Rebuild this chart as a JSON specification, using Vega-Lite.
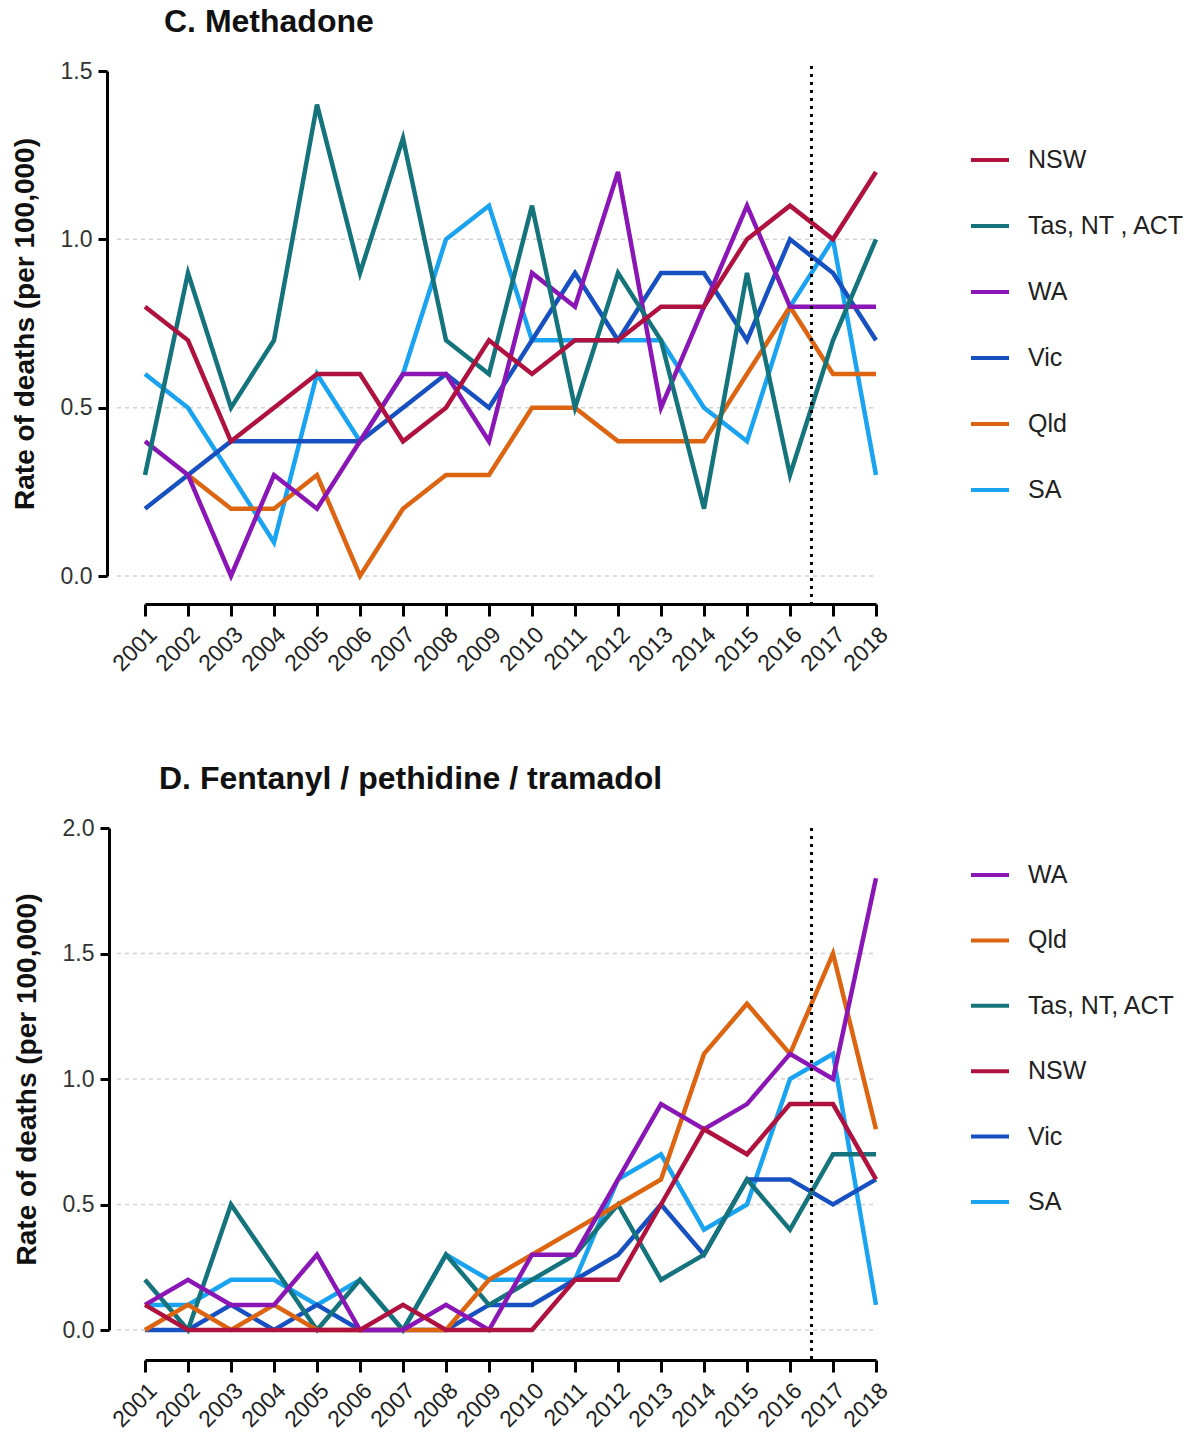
{
  "$schema": "https://vega.github.io/schema/vega-lite/v6.json",
  "background": "white",
  "padding": {"left": 11, "top": 6, "right": 5, "bottom": 5},
  "config": {
    "view": {"stroke": null},
    "font": "Liberation Sans",
    "axis": {"labelFont": "Liberation Sans", "titleFont": "Liberation Sans"},
    "legend": {"labelFont": "Liberation Sans"}
  },
  "datasets": {
    "methadone": [
      {"state": "SA", "year": 2001, "rate": 0.6}, {"state": "SA", "year": 2002, "rate": 0.5}, {"state": "SA", "year": 2003, "rate": 0.3}, {"state": "SA", "year": 2004, "rate": 0.1}, {"state": "SA", "year": 2005, "rate": 0.6}, {"state": "SA", "year": 2006, "rate": 0.4}, {"state": "SA", "year": 2007, "rate": 0.6}, {"state": "SA", "year": 2008, "rate": 1.0}, {"state": "SA", "year": 2009, "rate": 1.1}, {"state": "SA", "year": 2010, "rate": 0.7}, {"state": "SA", "year": 2011, "rate": 0.7}, {"state": "SA", "year": 2012, "rate": 0.7}, {"state": "SA", "year": 2013, "rate": 0.7}, {"state": "SA", "year": 2014, "rate": 0.5}, {"state": "SA", "year": 2015, "rate": 0.4}, {"state": "SA", "year": 2016, "rate": 0.8}, {"state": "SA", "year": 2017, "rate": 1.0}, {"state": "SA", "year": 2018, "rate": 0.3},
      {"state": "Qld", "year": 2002, "rate": 0.3}, {"state": "Qld", "year": 2003, "rate": 0.2}, {"state": "Qld", "year": 2004, "rate": 0.2}, {"state": "Qld", "year": 2005, "rate": 0.3}, {"state": "Qld", "year": 2006, "rate": 0.0}, {"state": "Qld", "year": 2007, "rate": 0.2}, {"state": "Qld", "year": 2008, "rate": 0.3}, {"state": "Qld", "year": 2009, "rate": 0.3}, {"state": "Qld", "year": 2010, "rate": 0.5}, {"state": "Qld", "year": 2011, "rate": 0.5}, {"state": "Qld", "year": 2012, "rate": 0.4}, {"state": "Qld", "year": 2013, "rate": 0.4}, {"state": "Qld", "year": 2014, "rate": 0.4}, {"state": "Qld", "year": 2015, "rate": 0.6}, {"state": "Qld", "year": 2016, "rate": 0.8}, {"state": "Qld", "year": 2017, "rate": 0.6}, {"state": "Qld", "year": 2018, "rate": 0.6},
      {"state": "Vic", "year": 2001, "rate": 0.2}, {"state": "Vic", "year": 2002, "rate": 0.3}, {"state": "Vic", "year": 2003, "rate": 0.4}, {"state": "Vic", "year": 2004, "rate": 0.4}, {"state": "Vic", "year": 2005, "rate": 0.4}, {"state": "Vic", "year": 2006, "rate": 0.4}, {"state": "Vic", "year": 2007, "rate": 0.5}, {"state": "Vic", "year": 2008, "rate": 0.6}, {"state": "Vic", "year": 2009, "rate": 0.5}, {"state": "Vic", "year": 2010, "rate": 0.7}, {"state": "Vic", "year": 2011, "rate": 0.9}, {"state": "Vic", "year": 2012, "rate": 0.7}, {"state": "Vic", "year": 2013, "rate": 0.9}, {"state": "Vic", "year": 2014, "rate": 0.9}, {"state": "Vic", "year": 2015, "rate": 0.7}, {"state": "Vic", "year": 2016, "rate": 1.0}, {"state": "Vic", "year": 2017, "rate": 0.9}, {"state": "Vic", "year": 2018, "rate": 0.7},
      {"state": "WA", "year": 2001, "rate": 0.4}, {"state": "WA", "year": 2002, "rate": 0.3}, {"state": "WA", "year": 2003, "rate": 0.0}, {"state": "WA", "year": 2004, "rate": 0.3}, {"state": "WA", "year": 2005, "rate": 0.2}, {"state": "WA", "year": 2006, "rate": 0.4}, {"state": "WA", "year": 2007, "rate": 0.6}, {"state": "WA", "year": 2008, "rate": 0.6}, {"state": "WA", "year": 2009, "rate": 0.4}, {"state": "WA", "year": 2010, "rate": 0.9}, {"state": "WA", "year": 2011, "rate": 0.8}, {"state": "WA", "year": 2012, "rate": 1.2}, {"state": "WA", "year": 2013, "rate": 0.5}, {"state": "WA", "year": 2014, "rate": 0.8}, {"state": "WA", "year": 2015, "rate": 1.1}, {"state": "WA", "year": 2016, "rate": 0.8}, {"state": "WA", "year": 2017, "rate": 0.8}, {"state": "WA", "year": 2018, "rate": 0.8},
      {"state": "Tas, NT , ACT", "year": 2001, "rate": 0.3}, {"state": "Tas, NT , ACT", "year": 2002, "rate": 0.9}, {"state": "Tas, NT , ACT", "year": 2003, "rate": 0.5}, {"state": "Tas, NT , ACT", "year": 2004, "rate": 0.7}, {"state": "Tas, NT , ACT", "year": 2005, "rate": 1.4}, {"state": "Tas, NT , ACT", "year": 2006, "rate": 0.9}, {"state": "Tas, NT , ACT", "year": 2007, "rate": 1.3}, {"state": "Tas, NT , ACT", "year": 2008, "rate": 0.7}, {"state": "Tas, NT , ACT", "year": 2009, "rate": 0.6}, {"state": "Tas, NT , ACT", "year": 2010, "rate": 1.1}, {"state": "Tas, NT , ACT", "year": 2011, "rate": 0.5}, {"state": "Tas, NT , ACT", "year": 2012, "rate": 0.9}, {"state": "Tas, NT , ACT", "year": 2013, "rate": 0.7}, {"state": "Tas, NT , ACT", "year": 2014, "rate": 0.2}, {"state": "Tas, NT , ACT", "year": 2015, "rate": 0.9}, {"state": "Tas, NT , ACT", "year": 2016, "rate": 0.3}, {"state": "Tas, NT , ACT", "year": 2017, "rate": 0.7}, {"state": "Tas, NT , ACT", "year": 2018, "rate": 1.0},
      {"state": "NSW", "year": 2001, "rate": 0.8}, {"state": "NSW", "year": 2002, "rate": 0.7}, {"state": "NSW", "year": 2003, "rate": 0.4}, {"state": "NSW", "year": 2004, "rate": 0.5}, {"state": "NSW", "year": 2005, "rate": 0.6}, {"state": "NSW", "year": 2006, "rate": 0.6}, {"state": "NSW", "year": 2007, "rate": 0.4}, {"state": "NSW", "year": 2008, "rate": 0.5}, {"state": "NSW", "year": 2009, "rate": 0.7}, {"state": "NSW", "year": 2010, "rate": 0.6}, {"state": "NSW", "year": 2011, "rate": 0.7}, {"state": "NSW", "year": 2012, "rate": 0.7}, {"state": "NSW", "year": 2013, "rate": 0.8}, {"state": "NSW", "year": 2014, "rate": 0.8}, {"state": "NSW", "year": 2015, "rate": 1.0}, {"state": "NSW", "year": 2016, "rate": 1.1}, {"state": "NSW", "year": 2017, "rate": 1.0}, {"state": "NSW", "year": 2018, "rate": 1.2}
    ],
    "fentanyl": [
      {"state": "SA", "year": 2001, "rate": 0.1}, {"state": "SA", "year": 2002, "rate": 0.1}, {"state": "SA", "year": 2003, "rate": 0.2}, {"state": "SA", "year": 2004, "rate": 0.2}, {"state": "SA", "year": 2005, "rate": 0.1}, {"state": "SA", "year": 2006, "rate": 0.2}, {"state": "SA", "year": 2007, "rate": 0.0}, {"state": "SA", "year": 2008, "rate": 0.3}, {"state": "SA", "year": 2009, "rate": 0.2}, {"state": "SA", "year": 2010, "rate": 0.2}, {"state": "SA", "year": 2011, "rate": 0.2}, {"state": "SA", "year": 2012, "rate": 0.6}, {"state": "SA", "year": 2013, "rate": 0.7}, {"state": "SA", "year": 2014, "rate": 0.4}, {"state": "SA", "year": 2015, "rate": 0.5}, {"state": "SA", "year": 2016, "rate": 1.0}, {"state": "SA", "year": 2017, "rate": 1.1}, {"state": "SA", "year": 2018, "rate": 0.1},
      {"state": "Vic", "year": 2001, "rate": 0.0}, {"state": "Vic", "year": 2002, "rate": 0.0}, {"state": "Vic", "year": 2003, "rate": 0.1}, {"state": "Vic", "year": 2004, "rate": 0.0}, {"state": "Vic", "year": 2005, "rate": 0.1}, {"state": "Vic", "year": 2006, "rate": 0.0}, {"state": "Vic", "year": 2007, "rate": 0.0}, {"state": "Vic", "year": 2008, "rate": 0.0}, {"state": "Vic", "year": 2009, "rate": 0.1}, {"state": "Vic", "year": 2010, "rate": 0.1}, {"state": "Vic", "year": 2011, "rate": 0.2}, {"state": "Vic", "year": 2012, "rate": 0.3}, {"state": "Vic", "year": 2013, "rate": 0.5}, {"state": "Vic", "year": 2014, "rate": 0.3}, {"state": "Vic", "year": 2015, "rate": 0.6}, {"state": "Vic", "year": 2016, "rate": 0.6}, {"state": "Vic", "year": 2017, "rate": 0.5}, {"state": "Vic", "year": 2018, "rate": 0.6},
      {"state": "Tas, NT, ACT", "year": 2001, "rate": 0.2}, {"state": "Tas, NT, ACT", "year": 2002, "rate": 0.0}, {"state": "Tas, NT, ACT", "year": 2003, "rate": 0.5}, {"state": "Tas, NT, ACT", "year": 2004, "rate": 0.25}, {"state": "Tas, NT, ACT", "year": 2005, "rate": 0.0}, {"state": "Tas, NT, ACT", "year": 2006, "rate": 0.2}, {"state": "Tas, NT, ACT", "year": 2007, "rate": 0.0}, {"state": "Tas, NT, ACT", "year": 2008, "rate": 0.3}, {"state": "Tas, NT, ACT", "year": 2009, "rate": 0.1}, {"state": "Tas, NT, ACT", "year": 2010, "rate": 0.2}, {"state": "Tas, NT, ACT", "year": 2011, "rate": 0.3}, {"state": "Tas, NT, ACT", "year": 2012, "rate": 0.5}, {"state": "Tas, NT, ACT", "year": 2013, "rate": 0.2}, {"state": "Tas, NT, ACT", "year": 2014, "rate": 0.3}, {"state": "Tas, NT, ACT", "year": 2015, "rate": 0.6}, {"state": "Tas, NT, ACT", "year": 2016, "rate": 0.4}, {"state": "Tas, NT, ACT", "year": 2017, "rate": 0.7}, {"state": "Tas, NT, ACT", "year": 2018, "rate": 0.7},
      {"state": "Qld", "year": 2001, "rate": 0.0}, {"state": "Qld", "year": 2002, "rate": 0.1}, {"state": "Qld", "year": 2003, "rate": 0.0}, {"state": "Qld", "year": 2004, "rate": 0.1}, {"state": "Qld", "year": 2005, "rate": 0.0}, {"state": "Qld", "year": 2006, "rate": 0.0}, {"state": "Qld", "year": 2007, "rate": 0.0}, {"state": "Qld", "year": 2008, "rate": 0.0}, {"state": "Qld", "year": 2009, "rate": 0.2}, {"state": "Qld", "year": 2010, "rate": 0.3}, {"state": "Qld", "year": 2011, "rate": 0.4}, {"state": "Qld", "year": 2012, "rate": 0.5}, {"state": "Qld", "year": 2013, "rate": 0.6}, {"state": "Qld", "year": 2014, "rate": 1.1}, {"state": "Qld", "year": 2015, "rate": 1.3}, {"state": "Qld", "year": 2016, "rate": 1.1}, {"state": "Qld", "year": 2017, "rate": 1.5}, {"state": "Qld", "year": 2018, "rate": 0.8},
      {"state": "WA", "year": 2001, "rate": 0.1}, {"state": "WA", "year": 2002, "rate": 0.2}, {"state": "WA", "year": 2003, "rate": 0.1}, {"state": "WA", "year": 2004, "rate": 0.1}, {"state": "WA", "year": 2005, "rate": 0.3}, {"state": "WA", "year": 2006, "rate": 0.0}, {"state": "WA", "year": 2007, "rate": 0.0}, {"state": "WA", "year": 2008, "rate": 0.1}, {"state": "WA", "year": 2009, "rate": 0.0}, {"state": "WA", "year": 2010, "rate": 0.3}, {"state": "WA", "year": 2011, "rate": 0.3}, {"state": "WA", "year": 2012, "rate": 0.6}, {"state": "WA", "year": 2013, "rate": 0.9}, {"state": "WA", "year": 2014, "rate": 0.8}, {"state": "WA", "year": 2015, "rate": 0.9}, {"state": "WA", "year": 2016, "rate": 1.1}, {"state": "WA", "year": 2017, "rate": 1.0}, {"state": "WA", "year": 2018, "rate": 1.8},
      {"state": "NSW", "year": 2001, "rate": 0.1}, {"state": "NSW", "year": 2002, "rate": 0.0}, {"state": "NSW", "year": 2003, "rate": 0.0}, {"state": "NSW", "year": 2004, "rate": 0.0}, {"state": "NSW", "year": 2005, "rate": 0.0}, {"state": "NSW", "year": 2006, "rate": 0.0}, {"state": "NSW", "year": 2007, "rate": 0.1}, {"state": "NSW", "year": 2008, "rate": 0.0}, {"state": "NSW", "year": 2009, "rate": 0.0}, {"state": "NSW", "year": 2010, "rate": 0.0}, {"state": "NSW", "year": 2011, "rate": 0.2}, {"state": "NSW", "year": 2012, "rate": 0.2}, {"state": "NSW", "year": 2013, "rate": 0.5}, {"state": "NSW", "year": 2014, "rate": 0.8}, {"state": "NSW", "year": 2015, "rate": 0.7}, {"state": "NSW", "year": 2016, "rate": 0.9}, {"state": "NSW", "year": 2017, "rate": 0.9}, {"state": "NSW", "year": 2018, "rate": 0.6}
    ]
  },
  "spacing": 87,
  "resolve": {"scale": {"color": "independent", "x": "independent", "y": "independent"}, "legend": {"color": "independent"}},
  "vconcat": [
    {
      "title": {"text": "C. Methadone", "anchor": "start", "frame": "group", "fontSize": 32, "fontWeight": "bold", "color": "#111111", "dx": 19, "offset": 21},
      "width": 731,
      "height": 505,
      "layer": [
        {"data": {"values": [{}]}, "mark": {"type": "rule", "color": "#d2d2d2", "strokeDash": [4, 4], "strokeWidth": 1.5}, "encoding": {"x": {"datum": 2000.35}, "x2": {"datum": 2018}, "y": {"datum": 0}}},
        {"data": {"values": [{}]}, "mark": {"type": "rule", "color": "#d2d2d2", "strokeDash": [4, 4], "strokeWidth": 1.5}, "encoding": {"x": {"datum": 2000.35}, "x2": {"datum": 2018}, "y": {"datum": 0.5}}},
        {"data": {"values": [{}]}, "mark": {"type": "rule", "color": "#d2d2d2", "strokeDash": [4, 4], "strokeWidth": 1.5}, "encoding": {"x": {"datum": 2000.35}, "x2": {"datum": 2018}, "y": {"datum": 1.0}}},
        {
          "data": {"name": "methadone"},
          "mark": {"type": "line", "strokeWidth": 4.5, "strokeJoin": "miter"},
          "encoding": {
            "x": {"field": "year", "type": "quantitative", "scale": {"domain": [2001, 2018], "nice": false, "zero": false},
              "axis": {"title": null, "grid": false, "offset": 28, "values": [2001, 2002, 2003, 2004, 2005, 2006, 2007, 2008, 2009, 2010, 2011, 2012, 2013, 2014, 2015, 2016, 2017, 2018], "format": "d", "labelAngle": -45, "labelFontSize": 23, "labelColor": "#222222", "labelPadding": 7, "domainColor": "#000000", "domainWidth": 3, "tickColor": "#000000", "tickWidth": 3, "tickSize": 12, "labelFlush": false, "labelOverlap": false}},
            "y": {"field": "rate", "type": "quantitative", "scale": {"domain": [0, 1.5], "nice": false},
              "axis": {"title": "Rate of deaths (per 100,000)", "titleFontSize": 28, "titleFontWeight": "bold", "titleColor": "#111111", "titlePadding": 21, "grid": false, "offset": 38, "values": [0, 0.5, 1, 1.5], "format": ".1f", "labelFontSize": 23, "labelColor": "#333333", "labelPadding": 6, "domainColor": "#000000", "domainWidth": 3, "tickColor": "#000000", "tickWidth": 3, "tickSize": 9}},
            "color": {"field": "state", "type": "nominal",
              "scale": {"domain": ["NSW", "Tas, NT , ACT", "WA", "Vic", "Qld", "SA"], "range": ["#B0123F", "#14737B", "#8A17B5", "#1750C0", "#DD6410", "#1AA3F0"]},
              "legend": {"title": null, "orient": "none", "legendX": 824, "legendY": 68, "symbolType": "stroke", "symbolSize": 1444, "symbolStrokeWidth": 4, "labelFontSize": 25, "labelColor": "#222222", "labelOffset": 17, "rowPadding": 32}}
          }
        },
        {"data": {"values": [{}]}, "mark": {"type": "rule", "color": "#000000", "strokeDash": [3, 5], "strokeWidth": 3}, "encoding": {"x": {"datum": 2016.5}, "y": {"datum": 1.515}, "y2": {"datum": -0.083}}}
      ]
    },
    {
      "title": {"text": "D. Fentanyl / pethidine / tramadol", "anchor": "start", "frame": "group", "fontSize": 32, "fontWeight": "bold", "color": "#111111", "dx": 14, "offset": 21},
      "width": 731,
      "height": 502,
      "layer": [
        {"data": {"values": [{}]}, "mark": {"type": "rule", "color": "#d2d2d2", "strokeDash": [4, 4], "strokeWidth": 1.5}, "encoding": {"x": {"datum": 2000.35}, "x2": {"datum": 2018}, "y": {"datum": 0}}},
        {"data": {"values": [{}]}, "mark": {"type": "rule", "color": "#d2d2d2", "strokeDash": [4, 4], "strokeWidth": 1.5}, "encoding": {"x": {"datum": 2000.35}, "x2": {"datum": 2018}, "y": {"datum": 0.5}}},
        {"data": {"values": [{}]}, "mark": {"type": "rule", "color": "#d2d2d2", "strokeDash": [4, 4], "strokeWidth": 1.5}, "encoding": {"x": {"datum": 2000.35}, "x2": {"datum": 2018}, "y": {"datum": 1.0}}},
        {"data": {"values": [{}]}, "mark": {"type": "rule", "color": "#d2d2d2", "strokeDash": [4, 4], "strokeWidth": 1.5}, "encoding": {"x": {"datum": 2000.35}, "x2": {"datum": 2018}, "y": {"datum": 1.5}}},
        {
          "data": {"name": "fentanyl"},
          "mark": {"type": "line", "strokeWidth": 4.5, "strokeJoin": "miter"},
          "encoding": {
            "x": {"field": "year", "type": "quantitative", "scale": {"domain": [2001, 2018], "nice": false, "zero": false},
              "axis": {"title": null, "grid": false, "offset": 30, "values": [2001, 2002, 2003, 2004, 2005, 2006, 2007, 2008, 2009, 2010, 2011, 2012, 2013, 2014, 2015, 2016, 2017, 2018], "format": "d", "labelAngle": -45, "labelFontSize": 23, "labelColor": "#222222", "labelPadding": 7, "domainColor": "#000000", "domainWidth": 3, "tickColor": "#000000", "tickWidth": 3, "tickSize": 12, "labelFlush": false, "labelOverlap": false}},
            "y": {"field": "rate", "type": "quantitative", "scale": {"domain": [0, 2], "nice": false},
              "axis": {"title": "Rate of deaths (per 100,000)", "titleFontSize": 28, "titleFontWeight": "bold", "titleColor": "#111111", "titlePadding": 21, "grid": false, "offset": 36, "values": [0, 0.5, 1, 1.5, 2], "format": ".1f", "labelFontSize": 23, "labelColor": "#333333", "labelPadding": 6, "domainColor": "#000000", "domainWidth": 3, "tickColor": "#000000", "tickWidth": 3, "tickSize": 9}},
            "color": {"field": "state", "type": "nominal",
              "scale": {"domain": ["WA", "Qld", "Tas, NT, ACT", "NSW", "Vic", "SA"], "range": ["#8A17B5", "#DD6410", "#14737B", "#B0123F", "#1750C0", "#1AA3F0"]},
              "legend": {"title": null, "orient": "none", "legendX": 824, "legendY": 26, "symbolType": "stroke", "symbolSize": 1444, "symbolStrokeWidth": 4, "labelFontSize": 25, "labelColor": "#222222", "labelOffset": 17, "rowPadding": 31.4}}
          }
        },
        {"data": {"values": [{}]}, "mark": {"type": "rule", "color": "#000000", "strokeDash": [3, 5], "strokeWidth": 3}, "encoding": {"x": {"datum": 2016.5}, "y": {"datum": 2.0}, "y2": {"datum": -0.12}}}
      ]
    }
  ]
}
